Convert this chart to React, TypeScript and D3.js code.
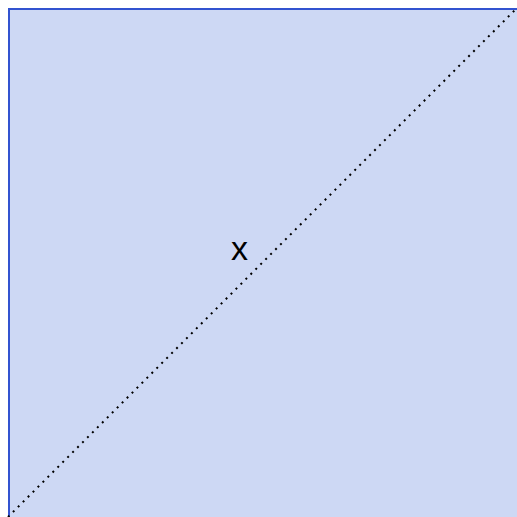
import React from "react";
import * as d3 from "d3";

const domain = [0, 1];
const diagonal = [
  { x: 0, y: 0 },
  { x: 1, y: 1 },
];
const labels = [{ text: "x", x: 0.455, y: 0.505 }];

export default function App() {
  const W = 517;
  const H = 517;
  const off = 8;
  const S = 509;
  const x = d3.scaleLinear().domain(domain).range([off, off + S]);
  const y = d3.scaleLinear().domain(domain).range([off + S, off]);
  const line = d3
    .line<{ x: number; y: number }>()
    .x((d) => x(d.x))
    .y((d) => y(d.y));
  return (
    <svg
      width={W}
      height={H}
      style={{ display: "block", position: "fixed", left: 0, top: 0 }}
    >
      <rect x={off + 1} y={off + 1} width={W} height={H} fill="#cdd8f4" stroke="#3253d0" strokeWidth={2} />
      <path d={line(diagonal) || ""} fill="none" stroke="#000" strokeWidth={2} strokeDasharray="2 5" />
      {labels.map((l, i) => (
        <text
          key={i}
          x={x(l.x)}
          y={y(l.y)}
          textAnchor="middle"
          fontFamily="Liberation Sans, Arial, sans-serif"
          fontSize={34}
          fill="#000"
        >
          {l.text}
        </text>
      ))}
    </svg>
  );
}
